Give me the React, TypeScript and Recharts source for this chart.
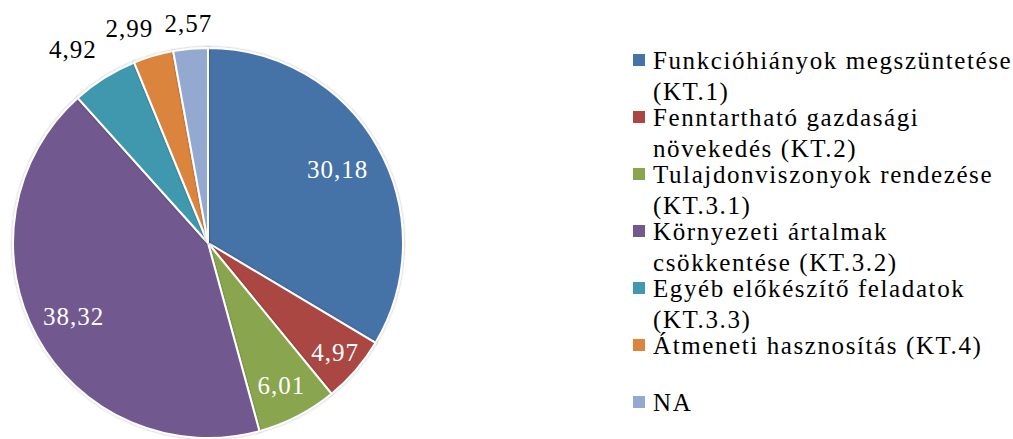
import React from "react";
import { PieChart, Pie, Cell, Legend } from "recharts";

const categories = [
  "Funkcióhiányok megszüntetése\n(KT.1)",
  "Fenntartható gazdasági\nnövekedés (KT.2)",
  "Tulajdonviszonyok rendezése\n(KT.3.1)",
  "Környezeti ártalmak\ncsökkentése (KT.3.2)",
  "Egyéb előkészítő feladatok\n(KT.3.3)",
  "Átmeneti hasznosítás (KT.4)",
  "NA",
];
const values = [30.18, 4.97, 6.01, 38.32, 4.92, 2.99, 2.57];
const colors = ["#4572A7", "#AA4643", "#89A54E", "#71588F", "#4198AF", "#DB843D", "#93A9CF"];

// label distance from centre as a fraction of the outer radius, and colour
const labelRadiusFactor = [0.765, 0.86, 0.82, 0.785, 1.17, 1.145, 1.13];
const labelDx = [0, 0, 0, 0, -14, -16, 0];
const labelColors = ["#fff", "#fff", "#fff", "#fff", "#000", "#000", "#000"];

const data = categories.map((name, i) => ({ name, value: values[i] }));

const FONT = "'Liberation Serif', 'Times New Roman', serif";
const RAD = Math.PI / 180;

const renderLabel = (props: any) => {
  const { cx, cy, midAngle, outerRadius, index, value } = props;
  const r = outerRadius * labelRadiusFactor[index];
  const x = cx + r * Math.cos(-midAngle * RAD) + labelDx[index];
  const y = cy + r * Math.sin(-midAngle * RAD);
  return (
    <text
      x={x}
      y={y}
      fill={labelColors[index]}
      textAnchor="middle"
      dominantBaseline="central"
      fontFamily={FONT}
      fontSize={25}
      letterSpacing={1}
    >
      {String(value.toFixed(2)).replace(".", ",")}
    </text>
  );
};

const renderLegend = () => (
  <div style={{ fontFamily: FONT, fontSize: 25, letterSpacing: 1.6, color: "#000" }}>
    {data.map((d, i) => (
      <div key={i} style={{ position: "relative", height: 57, paddingLeft: 20 }}>
        <div
          style={{
            position: "absolute",
            left: 0,
            top: 9,
            width: 12,
            height: 12,
            background: colors[i],
          }}
        />
        {d.name.split("\n").map((line, j) => (
          <div key={j} style={{ lineHeight: "31px", whiteSpace: "nowrap" }}>
            {line}
          </div>
        ))}
      </div>
    ))}
  </div>
);

export default function App() {
  return (
    <div style={{ position: "absolute", left: 0, top: 0, background: "#fff" }}>
      <PieChart width={1013} height={439} margin={{ top: 0, right: 0, bottom: 0, left: 0 }}>
        <defs>
          <filter id="pieShadow" x="-10%" y="-10%" width="120%" height="120%">
            <feDropShadow dx="0" dy="0" stdDeviation="1.2" floodColor="#000" floodOpacity="0.35" />
          </filter>
        </defs>
        <Pie
          data={data}
          dataKey="value"
          nameKey="name"
          cx={208}
          cy={243}
          outerRadius={195}
          startAngle={90}
          endAngle={-270}
          stroke="#fff"
          strokeWidth={2}
          label={renderLabel}
          labelLine={false}
          isAnimationActive={false}
          style={{ filter: "url(#pieShadow)" }}
        >
          {data.map((_, i) => (
            <Cell key={i} fill={colors[i]} />
          ))}
        </Pie>
        <Legend
          layout="vertical"
          content={renderLegend}
          wrapperStyle={{ position: "absolute", left: 633, top: 45, width: 380 }}
        />
      </PieChart>
    </div>
  );
}
